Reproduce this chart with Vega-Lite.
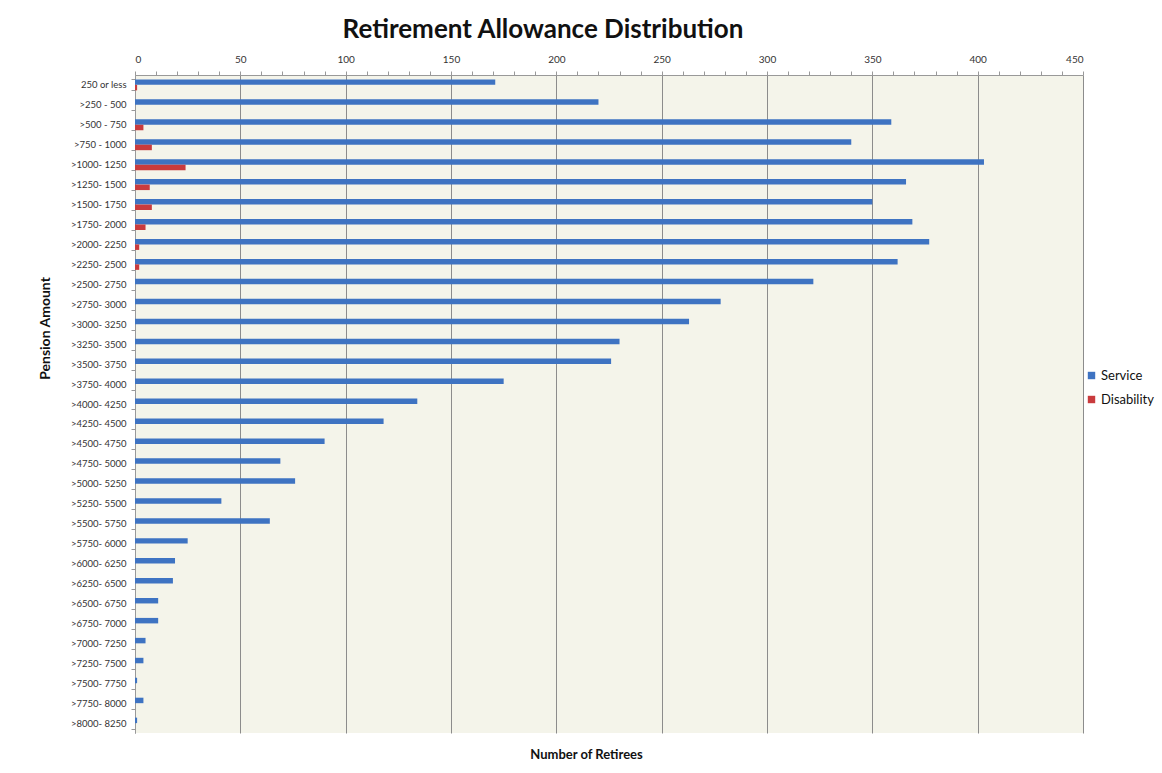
{
  "$schema": "https://vega.github.io/schema/vega-lite/v6.json",
  "width": 948,
  "height": 658,
  "autosize": {"type": "none"},
  "padding": {"left": 135, "top": 75, "right": 79, "bottom": 40},
  "background": "white",
  "title": {
    "text": "Retirement Allowance Distribution",
    "font": "Lato",
    "fontSize": 26,
    "fontWeight": "bold",
    "color": "#111111",
    "anchor": "middle",
    "dx": -66,
    "offset": 11
  },
  "config": {
    "view": {"fill": "#F4F4EA", "stroke": null},
    "font": "Lato"
  },
  "data": {
    "values": [
      {"range": "250 or less", "type": "Service", "count": 171},
      {"range": ">250 - 500", "type": "Service", "count": 220},
      {"range": ">500 - 750", "type": "Service", "count": 359},
      {"range": ">750 - 1000", "type": "Service", "count": 340},
      {"range": ">1000- 1250", "type": "Service", "count": 403},
      {"range": ">1250- 1500", "type": "Service", "count": 366},
      {"range": ">1500- 1750", "type": "Service", "count": 350},
      {"range": ">1750- 2000", "type": "Service", "count": 369},
      {"range": ">2000- 2250", "type": "Service", "count": 377},
      {"range": ">2250- 2500", "type": "Service", "count": 362},
      {"range": ">2500- 2750", "type": "Service", "count": 322},
      {"range": ">2750- 3000", "type": "Service", "count": 278},
      {"range": ">3000- 3250", "type": "Service", "count": 263},
      {"range": ">3250- 3500", "type": "Service", "count": 230},
      {"range": ">3500- 3750", "type": "Service", "count": 226},
      {"range": ">3750- 4000", "type": "Service", "count": 175},
      {"range": ">4000- 4250", "type": "Service", "count": 134},
      {"range": ">4250- 4500", "type": "Service", "count": 118},
      {"range": ">4500- 4750", "type": "Service", "count": 90},
      {"range": ">4750- 5000", "type": "Service", "count": 69},
      {"range": ">5000- 5250", "type": "Service", "count": 76},
      {"range": ">5250- 5500", "type": "Service", "count": 41},
      {"range": ">5500- 5750", "type": "Service", "count": 64},
      {"range": ">5750- 6000", "type": "Service", "count": 25},
      {"range": ">6000- 6250", "type": "Service", "count": 19},
      {"range": ">6250- 6500", "type": "Service", "count": 18},
      {"range": ">6500- 6750", "type": "Service", "count": 11},
      {"range": ">6750- 7000", "type": "Service", "count": 11},
      {"range": ">7000- 7250", "type": "Service", "count": 5},
      {"range": ">7250- 7500", "type": "Service", "count": 4},
      {"range": ">7500- 7750", "type": "Service", "count": 1},
      {"range": ">7750- 8000", "type": "Service", "count": 4},
      {"range": ">8000- 8250", "type": "Service", "count": 1},
      {"range": "250 or less", "type": "Disability", "count": 1},
      {"range": ">250 - 500", "type": "Disability", "count": 0},
      {"range": ">500 - 750", "type": "Disability", "count": 4},
      {"range": ">750 - 1000", "type": "Disability", "count": 8},
      {"range": ">1000- 1250", "type": "Disability", "count": 24},
      {"range": ">1250- 1500", "type": "Disability", "count": 7},
      {"range": ">1500- 1750", "type": "Disability", "count": 8},
      {"range": ">1750- 2000", "type": "Disability", "count": 5},
      {"range": ">2000- 2250", "type": "Disability", "count": 2},
      {"range": ">2250- 2500", "type": "Disability", "count": 2}
    ]
  },
  "resolve": {"axis": {"x": "independent"}},
  "layer": [
    {
      "mark": {"type": "bar"},
      "encoding": {
        "y": {
          "field": "range",
          "type": "nominal",
          "sort": null,
          "scale": {"paddingInner": 0.45, "paddingOuter": 0.22},
          "axis": {
            "title": "Pension Amount",
            "titleFont": "Lato",
            "titleFontSize": 14,
            "titleFontWeight": "bold",
            "titleColor": "#111111",
            "titlePadding": 18,
            "titleY": 253,
            "labelFont": "Lato",
            "labelFontSize": 9.5,
            "labelColor": "#333333",
            "labelPadding": 5,
            "tickBand": "extent",
            "tickSize": 4,
            "tickColor": "#999999",
            "domainColor": "#999999",
            "grid": false
          }
        },
        "yOffset": {
          "field": "type",
          "type": "nominal",
          "sort": ["Service", "Disability"],
          "scale": {"domain": ["Service", "Disability"], "paddingInner": 0}
        },
        "x": {
          "field": "count",
          "type": "quantitative",
          "scale": {"domain": [0, 450], "nice": false},
          "axis": {
            "orient": "top",
            "title": null,
            "values": [0, 10, 20, 30, 40, 50, 60, 70, 80, 90, 100, 110, 120, 130, 140, 150, 160, 170, 180, 190, 200, 210, 220, 230, 240, 250, 260, 270, 280, 290, 300, 310, 320, 330, 340, 350, 360, 370, 380, 390, 400, 410, 420, 430, 440, 450],
            "labelExpr": "datum.value % 50 === 0 ? datum.label : ''",
            "labelFont": "Lato",
            "labelFontSize": 10,
            "labelColor": "#333333",
            "labelPadding": 7,
            "grid": true,
            "gridColor": "#8C8C8C",
            "gridWidth": 1,
            "gridOpacity": {"expr": "datum.value % 50 === 0 ? 1 : 0"},
            "tickColor": "#999999",
            "tickSize": 4,
            "domainColor": "#999999"
          }
        },
        "color": {
          "field": "type",
          "type": "nominal",
          "scale": {"domain": ["Service", "Disability"], "range": ["#3E73C2", "#C93B3D"]},
          "legend": {
            "title": null,
            "orient": "none",
            "legendX": 950,
            "legendY": 294,
            "symbolType": "square",
            "symbolSize": 55,
            "symbolStrokeWidth": 0,
            "labelFont": "Lato",
            "labelFontSize": 13,
            "labelColor": "#111111",
            "rowPadding": 10,
            "labelOffset": 3
          }
        }
      }
    },
    {
      "mark": {"type": "point", "opacity": 0},
      "encoding": {
        "x": {
          "field": "count",
          "type": "quantitative",
          "axis": {
            "orient": "bottom",
            "title": "Number of Retirees",
            "titleFont": "Lato",
            "titleFontSize": 13,
            "titleFontWeight": "bold",
            "titleColor": "#111111",
            "titleX": 451,
            "titlePadding": 15,
            "labels": false,
            "ticks": false,
            "domain": false,
            "grid": false
          }
        }
      }
    }
  ]
}
